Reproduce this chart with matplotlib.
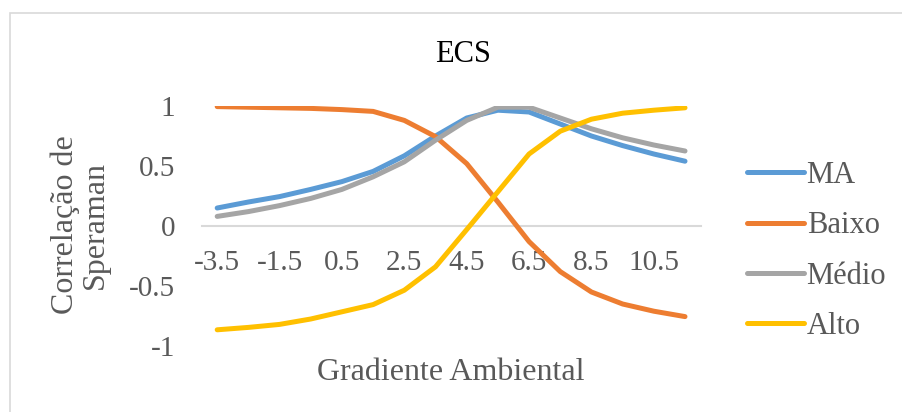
import numpy as np
import matplotlib.pyplot as plt
from matplotlib.patches import Rectangle

# Categories along the gradient
categorias = ['-3.5', '-2.5', '-1.5', '-0.5', '0.5', '1.5', '2.5', '3.5',
              '4.5', '5.5', '6.5', '7.5', '8.5', '9.5', '10.5', '11.5']

# Spearman correlation for each series
ma = [0.15, 0.20, 0.245, 0.305, 0.37, 0.455, 0.585, 0.75,
      0.90, 0.965, 0.95, 0.85, 0.75, 0.67, 0.60, 0.54]
baixo = [0.995, 0.99, 0.985, 0.98, 0.97, 0.955, 0.88, 0.745,
         0.52, 0.20, -0.13, -0.38, -0.55, -0.65, -0.71, -0.755]
medio = [0.08, 0.12, 0.17, 0.23, 0.305, 0.41, 0.535, 0.715,
         0.88, 0.99, 0.99, 0.90, 0.81, 0.735, 0.675, 0.625]
alto = [-0.865, -0.845, -0.82, -0.775, -0.715, -0.655, -0.535, -0.34,
        -0.03, 0.285, 0.60, 0.79, 0.89, 0.94, 0.965, 0.985]

series = [('MA', ma, '#5B9BD5'),
          ('Baixo', baixo, '#ED7D31'),
          ('Médio', medio, '#A5A5A5'),
          ('Alto', alto, '#FFC000')]

plt.rcParams['font.family'] = ['Liberation Serif', 'DejaVu Serif']
cinza = '#595959'

fig = plt.figure(figsize=(9.02, 4.12), dpi=100)
W, H = 902, 412

# chart area border
fig.patches.append(Rectangle((10 / W, -0.2), 1.2, 0.2 + 1 - 13 / H,
                             transform=fig.transFigure, fill=False,
                             edgecolor='#D9D9D9', lw=1.2))

ax = fig.add_axes([201.6 / W, 1 - 346 / H, 499 / W, 240 / H])
x = np.arange(len(categorias))
for nome, vals, cor in series:
    ax.plot(x, vals, color=cor, lw=3.6, label=nome,
            solid_capstyle='round', solid_joinstyle='round')

ax.set_xlim(-0.5, len(categorias) - 0.5)
ax.set_ylim(-1, 1)
ax.set_yticks([-1, -0.5, 0, 0.5, 1])
ax.set_yticklabels(['-1', '-0.5', '0', '0.5', '1'])
ax.set_xticks(x[::2])
ax.set_xticklabels(categorias[::2])

for s in ['top', 'right', 'left']:
    ax.spines[s].set_visible(False)
ax.spines['bottom'].set_position(('data', 0))
ax.spines['bottom'].set_color('#D9D9D9')
ax.spines['bottom'].set_linewidth(1.5)
ax.spines['bottom'].set_zorder(0)

ax.tick_params(axis='x', length=0, pad=17, labelsize=21, labelcolor=cinza)
ax.tick_params(axis='y', length=0, pad=19, labelsize=21, labelcolor=cinza)

fig.text(463 / W, 1 - 62 / H, 'ECS', ha='center', va='baseline',
         fontsize=22, color='black')
fig.text(451 / W, 1 - 380 / H, 'Gradiente Ambiental', ha='center',
         va='baseline', fontsize=23, color=cinza)
fig.text(80 / W, 1 - 225 / H, 'Correlação de\nSperaman', rotation=90,
         ha='center', va='center', multialignment='center',
         fontsize=23, color=cinza, linespacing=1.05)

leg = ax.legend(loc='center left', bbox_to_anchor=(747 / W, 1 - 251 / H),
                bbox_transform=fig.transFigure, frameon=False,
                fontsize=22, handlelength=1.85, handletextpad=0.1,
                labelspacing=0.7, borderpad=0, borderaxespad=0)
for t in leg.get_texts():
    t.set_color(cinza)

fig.savefig('out.png', dpi=100)
